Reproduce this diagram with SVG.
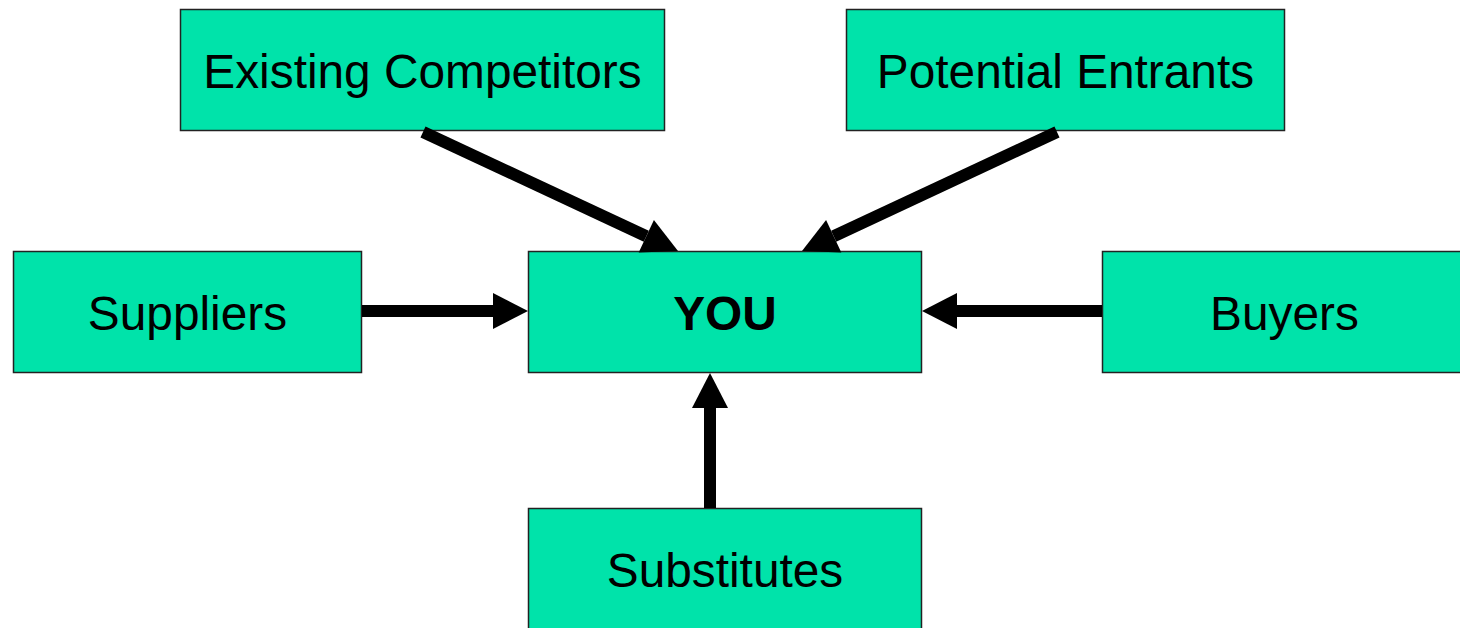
<svg xmlns="http://www.w3.org/2000/svg" width="1460" height="628" viewBox="0 0 1460 628">
<defs>
<style>
.box{fill:#00E3AA;stroke:#222;stroke-width:1.5}
.lbl{font-family:"Liberation Sans",Arial,sans-serif;font-size:47.8px;fill:#000;text-anchor:middle}
.bold{font-weight:bold}
.conn{stroke:#000;stroke-width:12;fill:none}
</style>
<marker id="ah" markerUnits="userSpaceOnUse" markerWidth="36" markerHeight="38" refX="0" refY="18" orient="auto" overflow="visible">
<path d="M0,0 L35,18 L0,36 Z" fill="#000"/>
</marker>
</defs>
<rect width="1460" height="628" fill="#fff"/>
<g id="existing">
<rect class="box" x="180.5" y="9.5" width="484" height="121"/>
<text class="lbl" x="422.5" y="88">Existing Competitors</text>
</g>
<g id="entrants">
<rect class="box" x="846.5" y="9.5" width="438" height="121"/>
<text class="lbl" x="1065.5" y="88">Potential Entrants</text>
</g>
<g id="suppliers">
<rect class="box" x="13.5" y="251.5" width="348" height="121"/>
<text class="lbl" x="187.5" y="330">Suppliers</text>
</g>
<g id="you">
<rect class="box" x="528.5" y="251.5" width="393" height="121"/>
<text class="lbl bold" x="725" y="330">YOU</text>
</g>
<g id="buyers">
<rect class="box" x="1102.5" y="251.5" width="364" height="121"/>
<text class="lbl" x="1284.5" y="330">Buyers</text>
</g>
<g id="substitutes">
<rect class="box" x="528.5" y="508.5" width="393" height="124"/>
<text class="lbl" x="725" y="587">Substitutes</text>
</g>
<g id="connectors">
<line class="conn" x1="423" y1="132" x2="646.3" y2="236.2" marker-end="url(#ah)"/>
<line class="conn" x1="1057" y1="132" x2="833.7" y2="236.2" marker-end="url(#ah)"/>
<line class="conn" x1="362" y1="311" x2="493" y2="311" marker-end="url(#ah)"/>
<line class="conn" x1="1102" y1="311" x2="957" y2="311" marker-end="url(#ah)"/>
<line class="conn" x1="710" y1="508" x2="710" y2="408" marker-end="url(#ah)"/>
</g>
</svg>
